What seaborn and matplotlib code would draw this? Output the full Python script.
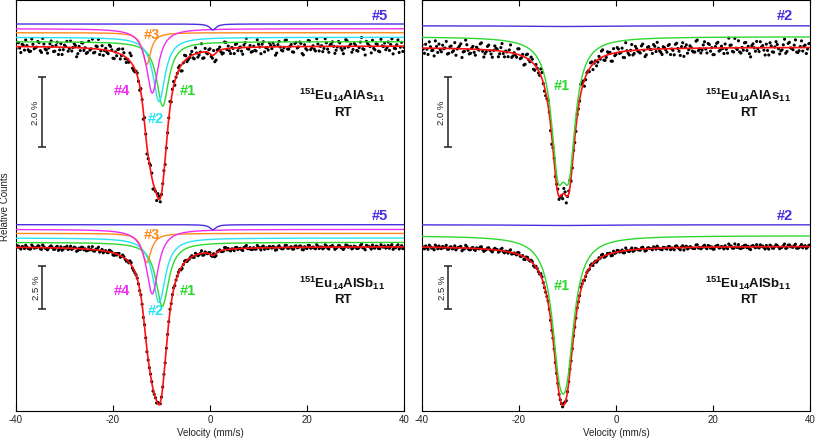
import numpy as np
import pandas as pd
import seaborn as sns
import matplotlib.pyplot as plt

sns.set_theme(style="ticks")
plt.rcParams['font.family'] = ['Liberation Sans', 'DejaVu Sans']
plt.rcParams['mathtext.default'] = 'regular'
plt.rcParams['axes.unicode_minus'] = False

# ---- data ----
vel_ticks = [-40, -20, 0, 20, 40]

# five-site fit colours (#1..#5) and two-site fit colours (#1, #2)
five_colors = ['#2fd82f', '#27e3f2', '#ff8a1c', '#f02cf0', '#4b2de0']
two_colors = ['#2fd82f', '#4b2de0']

# Eu14AlAs11, five sites (left, top); each line belongs to one site
asL_center = [-9.75, -10.5, -13.05, -11.9, 0.6]
asL_width = [3.0, 3.0, 2.0, 2.9, 1.6]
asL_depth = [1.84, 1.84, 0.91, 1.84, 0.17]
asL_site = [0, 1, 2, 3, 4]

# Eu14AlSb11, five sites (left, bottom)
sbL_center = [-9.83, -10.5, -13.05, -11.9, 0.6]
sbL_width = [3.2, 3.2, 2.2, 3.0, 1.6]
sbL_depth = [3.69, 3.73, 1.69, 3.73, 0.29]
sbL_site = [0, 1, 2, 3, 4]

# Eu14AlAs11, two sites (right, top) - site #1 is a doublet
asR_center = [-12.0, -9.7, -10.5]
asR_width = [3.3, 3.3, 20.0]
asR_depth = [3.09, 3.09, 0.02]
asR_site = [0, 0, 1]

# Eu14AlSb11, two sites (right, bottom)
sbR_center = [-11.7, -10.1, -10.9]
sbR_width = [3.8, 3.8, 20.0]
sbR_depth = [5.39, 5.39, 0.04]
sbR_site = [0, 0, 1]

# scatter of the measured points about the fit, in 0.01 %
asL_resid = [6, -11, 17, -4, -19, 9, 13, -7, 2, -15, 11, -24, 6, 18, -9, -2, 12, -14, 8, 21,
             -6, -17, 3, 10, -11, 26, -4, -15, 7, 15, -20, 1, 12, -8, -28, 4, 16, -5, 9, -13,
             19, -1, -10, 14, -18, 6, 2, -23, 11, 8, -7, 14, -3, -16, 20, 0, -12, 5, 17, -9,
             3, -6, 10, -2, 7, -13, 1, -8, 15, 2, -11, 6, -4, 9, -17, 12, -1, 18, -10, 4,
             -14, 8, 22, -5, -9, 13, -20, 3, 7, -2, 16, -12, 0, 10, -7, -26, 5, 14, -3, 11,
             -8, 19, -15, 2, 9, -4, -11, 24, -6, 1, 12, -18, 7, -1, 15, -9, 4, -13, 20, -5,
             10, -16, 3, 8, -22, 13, -2, 6, -10, 17, -7, 0, 11, -14, 5, 21, -19, 2, -6, 9,
             -3, 14, -12, 7, 25, -8, 1, -17, 10, -5, 16, -1, -9, 4, 12, -21, 6, -4, 18, -11, 3]
asR_resid = [-9, 15, 3, -18, 7, 22, -5, -12, 10, 1, -20, 14, -7, 6, 19, -3, -14, 9, -25, 4,
             12, -8, 17, -1, -16, 5, 11, -10, 2, 20, -13, -4, 8, -22, 15, 0, -7, 13, -2, 9,
             -17, 6, 24, -9, 1, -12, 16, -6, 7, -19, 3, 10, -15, 18, -3, 5, -11, 2, 14, -8,
             0, -21, 9, 12, -5, 4, -14, 19, -2, 8, -10, 1, 15, -7, -18, 11, 6, -4, 21, -13,
             5, -9, 2, 17, -24, 7, -1, 13, -11, 3, 9, -16, 20, -6, 0, 12, -8, -19, 6, 16,
             -3, 10, -12, 1, 18, -15, 8, -5, 23, -10, 4, -2, 11, -20, 7, 14, -9, 3, -13, 9,
             19, -4, -16, 6, 2, -11, 15, -7, 10, -27, 5, 12, -1, -14, 8, 17, -6, 0, -18, 11,
             -2, 7, -10, 21, -5, 13, -17, 3, 9, -8, 16, -12, 1, 6, -22, 14, -3, 10, -7, 4, -12]
sbL_resid = [4, -7, 10, -2, -12, 6, 9, -5, 1, -10, 7, -15, 3, 12, -6, -1, 8, -9, 5, 13,
             -4, -11, 2, 6, -7, 16, -3, -9, 5, 10, -13, 1, 8, -5, -17, 3, 11, -3, 6, -8,
             12, -1, -6, 9, -11, 4, 1, -14, 7, 5, -4, 9, -2, -10, 13, 0, -8, 3, 11, -6,
             2, -4, 7, -1, 5, -9, 1, -5, 10, 1, -7, 4, -3, 6, -11, 8, -1, 12, -6, 3,
             -9, 5, 14, -3, -6, 8, -13, 2, 5, -1, 10, -8, 0, 7, -5, -16, 3, 9, -2, 7,
             -5, 12, -10, 1, 6, -3, -7, 15, -4, 1, 8, -12, 5, -1, 10, -6, 3, -8, 13, -3,
             7, -10, 2, 5, -14, 8, -1, 4, -7, 11, -5, 0, 7, -9, 3, 14, -12, 1, -4, 6,
             -2, 9, -8, 5, 16, -5, 1, -11, 7, -3, 10, -1, -6, 3, 8, -13, 4, -3, 12, -7, 2]
sbR_resid = [-6, 10, 2, -12, 5, 14, -3, -8, 7, 1, -13, 9, -5, 4, 12, -2, -9, 6, -16, 3,
             8, -5, 11, -1, -10, 3, 7, -7, 1, 13, -9, -3, 5, -14, 10, 0, -5, 9, -1, 6,
             -11, 4, 15, -6, 1, -8, 10, -4, 5, -12, 2, 7, -10, 12, -2, 3, -7, 1, 9, -5,
             0, -14, 6, 8, -3, 3, -9, 12, -1, 5, -7, 1, 10, -5, -12, 7, 4, -3, 14, -9,
             3, -6, 1, 11, -15, 5, -1, 9, -7, 2, 6, -10, 13, -4, 0, 8, -5, -12, 4, 10,
             -2, 7, -8, 1, 12, -10, 5, -3, 15, -7, 3, -1, 7, -13, 5, 9, -6, 2, -9, 6,
             12, -3, -10, 4, 1, -7, 10, -5, 7, -17, 3, 8, -1, -9, 5, 11, -4, 0, -12, 7,
             -1, 5, -7, 14, -3, 9, -11, 2, 6, -5, 10, -8, 1, 4, -14, 9, -2, 7, -5, 3, -8]

n_main = len(asL_resid)
v_data = np.linspace(-40, 40, 2 * n_main - 1)   # channels every 0.25 mm/s
v_fit = np.linspace(-40, 40, 1601)


def channel_resid(own, partner):
    # even channels from the spectrum's own list, odd ones from its partner list
    r = np.empty(2 * n_main - 1)
    r[0::2] = own
    r[1::2] = partner[::-1][:n_main - 1]
    return r


def lorentz(v, center, width, depth):
    v = np.asarray(v)[:, None]
    c, w, d = np.asarray(center), np.asarray(width), np.asarray(depth)
    return d / (1 + (2 * (v - c) / w) ** 2)


def site_curves(v, center, width, depth, site):
    lines = lorentz(v, center, width, depth)
    site = np.asarray(site)
    return np.stack([lines[:, site == k].sum(axis=1) for k in range(site.max() + 1)], axis=1)


def draw_spectrum(ax, center, width, depth, site, resid, base, scale, offsets, colors):
    total_fit = lorentz(v_fit, center, width, depth).sum(axis=1)
    total_data = lorentz(v_data, center, width, depth).sum(axis=1)
    df = pd.DataFrame({'v': v_data, 'y': base - scale * (total_data + resid / 100.0)})
    sns.scatterplot(data=df, x='v', y='y', ax=ax, color='black', s=5,
                    edgecolor='none', linewidth=0, zorder=2)
    sns.lineplot(x=v_fit, y=base - scale * total_fit, ax=ax, color='#ff1010',
                 lw=1.2, zorder=3, estimator=None)
    comps = site_curves(v_fit, center, width, depth, site)
    for k in range(comps.shape[1]):
        sns.lineplot(x=v_fit, y=base + offsets[k] - scale * comps[:, k], ax=ax,
                     color=colors[k], lw=1.0, zorder=4, estimator=None)


def scale_bar(ax, x, ymid, length, text):
    ax.errorbar(x, ymid, yerr=length / 2, color='#222222', lw=1.1, capsize=3.2,
                capthick=1.1, zorder=5)
    ax.text(x - 0.3, ymid, text, rotation=90, ha='right', va='center', fontsize=6.8,
            color='#222222')


fig = plt.figure(figsize=(8.17, 4.39), dpi=100)
ax_l = fig.add_axes([16 / 817, 27 / 439, 388 / 817, 411 / 439])
ax_r = fig.add_axes([422 / 817, 27 / 439, 388 / 817, 411 / 439])

top_scale, bot_scale = 35.0, 17.3
five_off = [4.3, 8.7, 13.3, 17.3, 22.0]
two_off = [10.6, 21.5]

draw_spectrum(ax_l, asL_center, asL_width, asL_depth, asL_site,
              channel_resid(asL_resid, asR_resid), 365.0, top_scale, five_off, five_colors)
draw_spectrum(ax_l, sbL_center, sbL_width, sbL_depth, sbL_site,
              channel_resid(sbL_resid, sbR_resid), 164.3, bot_scale, five_off, five_colors)
draw_spectrum(ax_r, asR_center, asR_width, asR_depth, asR_site,
              channel_resid(asR_resid, asL_resid), 363.7, top_scale, two_off, two_colors)
draw_spectrum(ax_r, sbR_center, sbR_width, sbR_depth, sbR_site,
              channel_resid(sbR_resid, sbL_resid), 164.7, bot_scale, two_off, two_colors)

lab = dict(fontsize=10.5, fontweight='bold', ha='center', va='center')
# left panel site labels (top spectrum, then bottom spectrum)
for dy in (0, -200):
    ax_l.text(35.0, 396.3 + dy, '#5', color=five_colors[4], **lab)
    ax_l.text(-11.9, 377 + dy, '#3', color=five_colors[2], **lab)
    ax_l.text(-18.1, 321.3 + dy, '#4', color=five_colors[3], **lab)
    ax_l.text(-4.5, 321.3 + dy, '#1', color=five_colors[0], **lab)
    ax_l.text(-11.1, 293 + dy * 0.96, '#2', color=five_colors[1], **lab)
    # right panel site labels
    ax_r.text(34.9, 396.3 + dy, '#2', color=two_colors[1], **lab)
    ax_r.text(-11.2, 326.3 + dy, '#1', color=two_colors[0], **lab)

name = dict(fontsize=9.5, fontweight='bold', ha='center', va='center', color='#111111')
for ax in (ax_l, ax_r):
    ax.text(27.3, 317, r'$^{151}$Eu$_{14}$AlAs$_{11}$', **name)
    ax.text(27.3, 299, 'RT', **name)
    ax.text(27.3, 129, r'$^{151}$Eu$_{14}$AlSb$_{11}$', **name)
    ax.text(27.3, 112, 'RT', **name)
    scale_bar(ax, -34.7, 299.3, 2.0 * top_scale, '2.0 %')
    scale_bar(ax, -34.6, 123.7, 2.5 * bot_scale, '2.5 %')

    ax.set_xlim(-40, 40)
    ax.set_ylim(0, 411)
    ax.set_xticks(vel_ticks)
    ax.set_yticks([])
    ax.tick_params(axis='x', direction='in', length=4.5, width=0.8, top=True,
                   labelsize=7, pad=2.5, color='black', labelcolor='#222222')
    for s in ax.spines.values():
        s.set_visible(True)
        s.set_linewidth(0.8)
        s.set_color('black')
    ax.set_xlabel('Velocity (mm/s)', fontsize=7, labelpad=2, color='#222222')
    ax.set_ylabel('')

fig.text(4.8 / 817, 0.5296, 'Relative Counts', rotation=90, ha='center', va='center',
         fontsize=7, color='#222222')

fig.savefig('out.png', dpi=100, facecolor='white')
